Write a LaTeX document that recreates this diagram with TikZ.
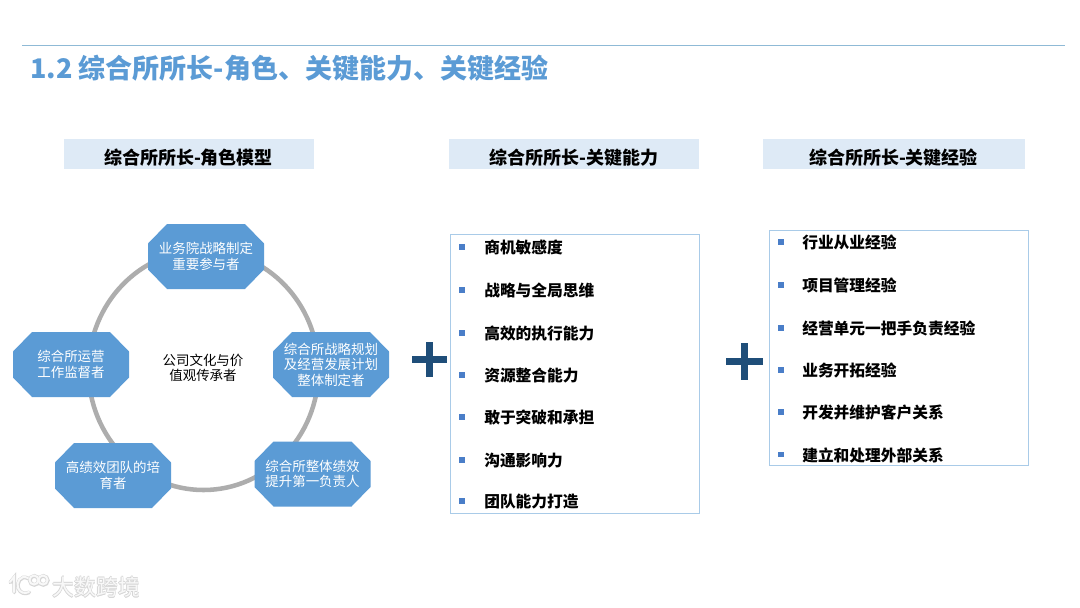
\documentclass[tikz,border=0pt]{standalone}
\usepackage{fontspec}
\setmainfont{Noto Sans CJK SC}
\definecolor{blueA}{HTML}{5B9BD5}
\definecolor{ringc}{HTML}{ADADAD}
\definecolor{barc}{HTML}{DEEAF6}
\definecolor{framec}{HTML}{A9CBE8}
\definecolor{rulec}{HTML}{8FBAD6}
\definecolor{plusc}{HTML}{1F4E79}
\definecolor{bulletc}{HTML}{4A7EC8}
\definecolor{wmc}{HTML}{F8F8F8}
\definecolor{wms}{HTML}{D6D6D6}
\tikzset{
  x=0.75pt,y=-0.75pt,
  octa/.style={text=white,inner sep=0pt,align=center,font=\fontsize{10.1}{11.6}\selectfont},
  headbar/.style={fill=barc,inner sep=0pt},
  headtext/.style={inner sep=0pt,text=black,font=\fontsize{13.5}{16}\selectfont\bfseries},
  listbox/.style={draw=framec,line width=0.75pt,fill=white,inner sep=0pt},
  item/.style={anchor=west,inner sep=0pt,text=black,font=\fontsize{11.8}{14}\selectfont\bfseries},
  bulletmark/.style={fill=bulletc,inner sep=0pt,minimum size=4pt},
  wmtext/.style={inner sep=0pt,font=\fontsize{16.5}{19}\selectfont},
}
\newcommand{\octashape}[2]{%
  \fill[blueA] ({#1-39},{#2-32.5}) -- ({#1+39},{#2-32.5}) -- ({#1+58},{#2-13}) -- ({#1+58},{#2+13})
    -- ({#1+39},{#2+32.5}) -- ({#1-39},{#2+32.5}) -- ({#1-58},{#2+13}) -- ({#1-58},{#2-13}) -- cycle;}
\begin{document}
\begin{tikzpicture}
\useasboundingbox (0,0) rectangle (1080,607);
\fill[white] (0,0) rectangle (1080,607);
% title
\draw[rulec,line width=0.75pt] (22,45.5) -- (1065,45.5);
\node[anchor=west,inner sep=0pt,text=blueA,font=\fontsize{20.25}{24}\selectfont\bfseries] (title) at (30,68) {1.2 综合所所长-角色、关键能力、关键经验};
% header bars
\node[headbar,minimum width=187.5pt,minimum height=22.5pt] (h1) at (188.5,154) {};
\node[headbar,minimum width=187.5pt,minimum height=22.5pt] (h2) at (574,154) {};
\node[headbar,minimum width=197pt,minimum height=22.5pt] (h3) at (894,154) {};
\node[headtext] (ht1) at (188.5,158) {综合所所长-角色模型};
\node[headtext] (ht2) at (574,158) {综合所所长-关键能力};
\node[headtext] (ht3) at (893.5,158) {综合所所长-关键经验};
% ring
\draw[ringc,line width=3.4pt] (203.5,370) ellipse [x radius=115,y radius=120];
% octagons
\octashape{206}{256.5}
\octashape{331}{364.5}
\octashape{312.5}{474}
\octashape{113}{475.5}
\octashape{71}{364.5}
\node[octa] (o1) at (206,256.5) {业务院战略制定\\重要参与者};
\node[octa] (o2) at (331,364.5) {综合所战略规划\\及经营发展计划\\整体制定者};
\node[octa] (o3) at (312.5,474) {综合所整体绩效\\提升第一负责人};
\node[octa] (o4) at (113,475.5) {高绩效团队的培\\育者};
\node[octa] (o5) at (71,364.5) {综合所运营\\工作监督者};
\node[inner sep=0pt,align=center,text=black,font=\fontsize{10.1}{11.6}\selectfont] (c) at (203,368) {公司文化与价\\值观传承者};
% plus signs
\fill[plusc] (412,355.5) rectangle (447,363);
\fill[plusc] (425.8,342) rectangle (433.2,377);
\fill[plusc] (726,357.5) rectangle (763,365);
\fill[plusc] (740.8,343) rectangle (748.2,380);
% list 1
\node[listbox,minimum width=186.75pt,minimum height=209.25pt] (l1) at (574.5,373.5) {};
\foreach \n/\yy/\t in {a/247/商机敏感度,b/290/战略与全局思维,c/333/高效的执行能力,d/375/资源整合能力,e/417/敢于突破和承担,f/460/沟通影响力,g/501/团队能力打造}{
  \node[bulletmark] (b1\n) at (462,\yy) {};
  \node[item] (t1\n) at (484,\yy+0.8) {\t};
}
% list 2
\node[listbox,minimum width=194.25pt,minimum height=176.25pt] (l2) at (898.5,347.5) {};
\foreach \n/\yy/\t in {a/242/行业从业经验,b/285/项目管理经验,c/328/经营单元一把手负责经验,d/370/业务开拓经验,e/412/开发并维护客户关系,f/454.5/建立和处理外部关系}{
  \node[bulletmark] (b2\n) at (781,\yy) {};
  \node[item] (t2\n) at (802,\yy+0.8) {\t};
}
% watermark
\foreach \ox/\oy in {-0.8/0,0.8/0,0/-0.8,0/0.8,0.8/0.8}{
  \node[wmtext,text=wms] at (96+\ox,587+\oy) {大数跨境};
}
\node[wmtext,text=wmc] (wm) at (96,587) {大数跨境};
\foreach \c/\dx/\dy/\w in {wms/0.3/0.4/2.8,wmc/0/0/1.5}{
  \begin{scope}[shift={(\dx,\dy)}]
    \draw[\c,line width=\w pt,line cap=round] (10,582) -- (14,577) -- (14,592);
    \draw[\c,line width=\w pt,line cap=round] (28,578) .. controls (20,574) and (16,583) .. (18,588) .. controls (20,593) and (25,594) .. (29,592);
    \draw[\c,line width=\w pt] (34,580) circle [radius=4.5];
    \draw[\c,line width=\w pt] (43,580) circle [radius=4.5];
  \end{scope}
}
\end{tikzpicture}
\end{document}
